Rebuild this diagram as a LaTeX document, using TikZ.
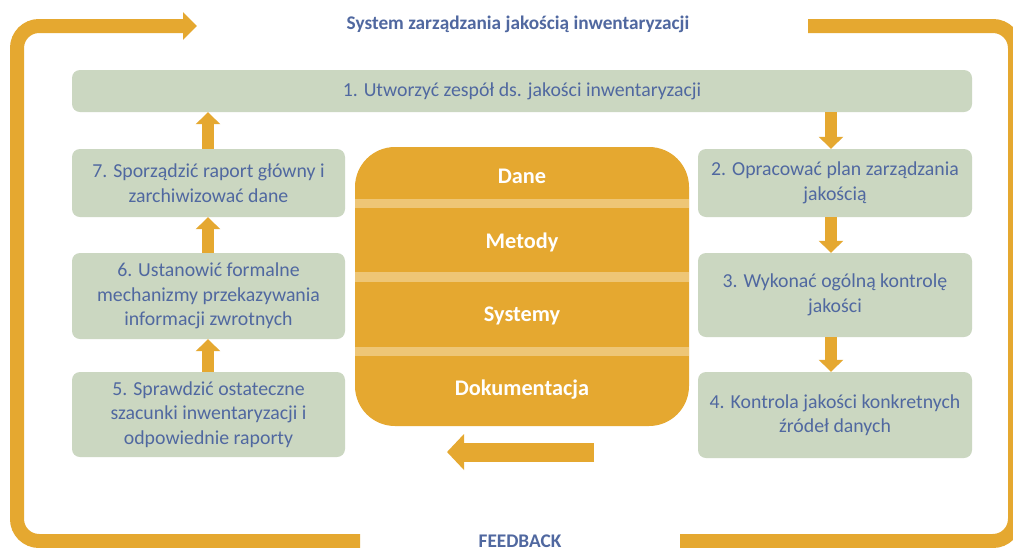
\documentclass[tikz,border=0pt]{standalone}
\usepackage{fontspec}
\setmainfont{Carlito}
\usetikzlibrary{arrows.meta}
\definecolor{orng}{HTML}{E5A830}
\definecolor{stripe}{HTML}{EEC676}
\definecolor{grn}{HTML}{CBD7C1}
\definecolor{txtblue}{HTML}{5068A0}
\tikzset{
  gbox/.style={fill=grn, draw=none, rounded corners=8pt, text=txtblue,
    font=\fontsize{19.8}{24.5}\selectfont, align=center, inner sep=0pt},
  frameline/.style={draw=orng, line width=14pt, rounded corners=22pt},
  smallarrow/.style={draw=orng, line width=12pt, -{Triangle[length=12pt,width=24pt]}},
  bigarrow/.style={draw=orng, line width=19pt, -{Triangle[length=17pt,width=35pt]}},
  corelabel/.style={text=white, font=\bfseries\fontsize{22.3}{26}\selectfont},
  titletext/.style={text=txtblue, font=\bfseries\fontsize{19.3}{23}\selectfont},
}
\begin{document}
\begin{tikzpicture}[x=1pt,y=-1pt]
\useasboundingbox (0,0) rectangle (1013,547);
\clip (0,0) rectangle (1013,547);
\fill[white] (0,0) rectangle (1013,547);
% frame
\coordinate (fl0) at (360,541);
\coordinate (fl1) at (17,541);
\coordinate (fl2) at (17,26);
\coordinate (fl3) at (197,26);
\draw[frameline, -{Triangle[length=14pt,width=27pt]}] (fl0) -- (fl1) -- (fl2) -- (fl3);
\coordinate (fr0) at (808,26);
\coordinate (fr1) at (1015,26);
\coordinate (fr2) at (1015,541);
\coordinate (fr3) at (680,541);
\draw[frameline] (fr0) -- (fr1) -- (fr2) -- (fr3);
% titles
\node[titletext] (title) at (518,24) {System zarządzania jakością inwentaryzacji};
\node[titletext, anchor=base] (feedback) at (520,547) {FEEDBACK};
% boxes
\node[gbox, minimum width=900pt, minimum height=42pt] (b1) at (522,91) {1. Utworzyć zespół ds. jakości inwentaryzacji};
\node[gbox, minimum width=274pt, minimum height=68pt] (b2) at (835,183) {2. Opracować plan zarządzania\\jakością};
\node[gbox, minimum width=274pt, minimum height=84pt] (b3) at (835,295) {3. Wykonać ogólną kontrolę\\jakości};
\node[gbox, minimum width=274pt, minimum height=86pt] (b4) at (835,415) {4. Kontrola jakości konkretnych\\źródeł danych};
\node[gbox, minimum width=273pt, minimum height=85pt] (b5) at (208.5,414.5) {5. Sprawdzić ostateczne\\szacunki inwentaryzacji i\\odpowiednie raporty};
\node[gbox, minimum width=273pt, minimum height=86pt] (b6) at (208.5,296) {6. Ustanowić formalne\\mechanizmy przekazywania\\informacji zwrotnych};
\node[gbox, minimum width=273pt, minimum height=68pt] (b7) at (208.5,183) {7. Sporządzić raport główny i\\zarchiwizować dane};
% core
\node[fill=orng, rounded corners=40pt, minimum width=334pt, minimum height=279pt, inner sep=0pt] (core) at (522,286.5) {};
\fill[stripe] (core.west |- 0,199) rectangle (core.east |- 0,208);
\fill[stripe] (core.west |- 0,272) rectangle (core.east |- 0,282);
\fill[stripe] (core.west |- 0,347) rectangle (core.east |- 0,356);
\node[corelabel] (dane) at (522,176) {Dane};
\node[corelabel] (metody) at (522,242) {Metody};
\node[corelabel] (systemy) at (522,316) {Systemy};
\node[corelabel] (dok) at (522,390) {Dokumentacja};
% arrows
\draw[smallarrow] (b1.south -| 831,0) -- (b2.north -| 831,0);
\draw[smallarrow] (b2.south -| 831,0) -- (b3.north -| 831,0);
\draw[smallarrow] (b3.south -| 831,0) -- (b4.north -| 831,0);
\draw[smallarrow] (b5.north -| 208,0) -- (b6.south -| 208,0);
\draw[smallarrow] (b6.north -| 208,0) -- (b7.south -| 208,0);
\draw[smallarrow] (b7.north -| 208,0) -- (b1.south -| 208,0);
\coordinate (fbstart) at (594,452);
\coordinate (fbend) at (447,452);
\draw[bigarrow] (fbstart) -- (fbend);
\end{tikzpicture}
\end{document}
